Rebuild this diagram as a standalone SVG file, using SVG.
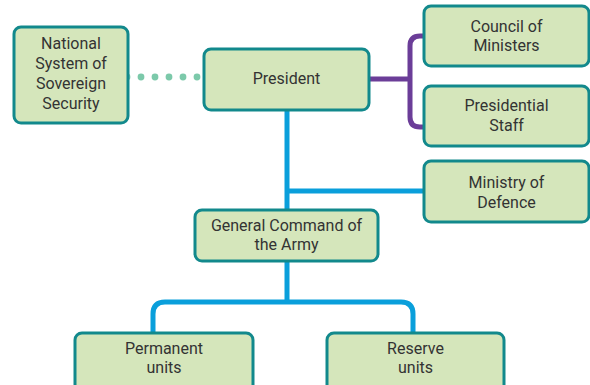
<svg xmlns="http://www.w3.org/2000/svg" width="590" height="385" viewBox="0 0 590 385">
<style>
.box{fill:#d5e6bb;stroke:#12898c;stroke-width:3}
.t{font-family:Roboto,"Liberation Sans",sans-serif;font-size:16px;fill:#333;text-anchor:middle}
.blue{fill:none;stroke:#0a9fdb;stroke-width:5}
.purple{fill:none;stroke:#6b3d98;stroke-width:5}
.dot{fill:#7cc9aa}
</style>
<rect width="590" height="385" fill="#fff"/>
<g id="connectors">
<g class="dot">
<circle cx="127" cy="77" r="3.4"/><circle cx="141" cy="77" r="3.4"/><circle cx="155" cy="77" r="3.4"/><circle cx="169" cy="77" r="3.4"/><circle cx="183" cy="77" r="3.4"/><circle cx="197" cy="77" r="3.4"/>
</g>
<path class="purple" d="M369 79 H410 M424 36 H420 Q410 36 410 46 V117 Q410 127 420 127 H424"/>
<path class="blue" d="M287 110 V210 M287 191 H424 M287 261 V302 M153 333 V314 Q153 302 165 302 H401 Q413 302 413 314 V333"/>
</g>
<g id="national"><rect class="box" x="14" y="27" width="114" height="96" rx="7"/>
<text class="t" x="71" y="49">National</text><text class="t" x="71" y="69">System of</text><text class="t" x="71" y="89">Sovereign</text><text class="t" x="71" y="109">Security</text></g>
<g id="president"><rect class="box" x="204" y="49" width="165" height="61" rx="7"/>
<text class="t" x="286.5" y="84">President</text></g>
<g id="council"><rect class="box" x="424" y="6" width="165" height="60" rx="7"/>
<text class="t" x="506.5" y="32">Council of</text><text class="t" x="506.5" y="51">Ministers</text></g>
<g id="staff"><rect class="box" x="424" y="86" width="165" height="60" rx="7"/>
<text class="t" x="506.5" y="111">Presidential</text><text class="t" x="506.5" y="131">Staff</text></g>
<g id="defence"><rect class="box" x="424" y="161" width="165" height="61" rx="7"/>
<text class="t" x="506.5" y="188">Ministry of</text><text class="t" x="506.5" y="208">Defence</text></g>
<g id="general"><rect class="box" x="195" y="210" width="183" height="51" rx="7"/>
<text class="t" x="286.5" y="231">General Command of</text><text class="t" x="286.5" y="250">the Army</text></g>
<g id="permanent"><rect class="box" x="75" y="333" width="178" height="60" rx="7"/>
<text class="t" x="164" y="354">Permanent</text><text class="t" x="164" y="373">units</text></g>
<g id="reserve"><rect class="box" x="327" y="333" width="177" height="60" rx="7"/>
<text class="t" x="415.5" y="354">Reserve</text><text class="t" x="415.5" y="373">units</text></g>
</svg>
